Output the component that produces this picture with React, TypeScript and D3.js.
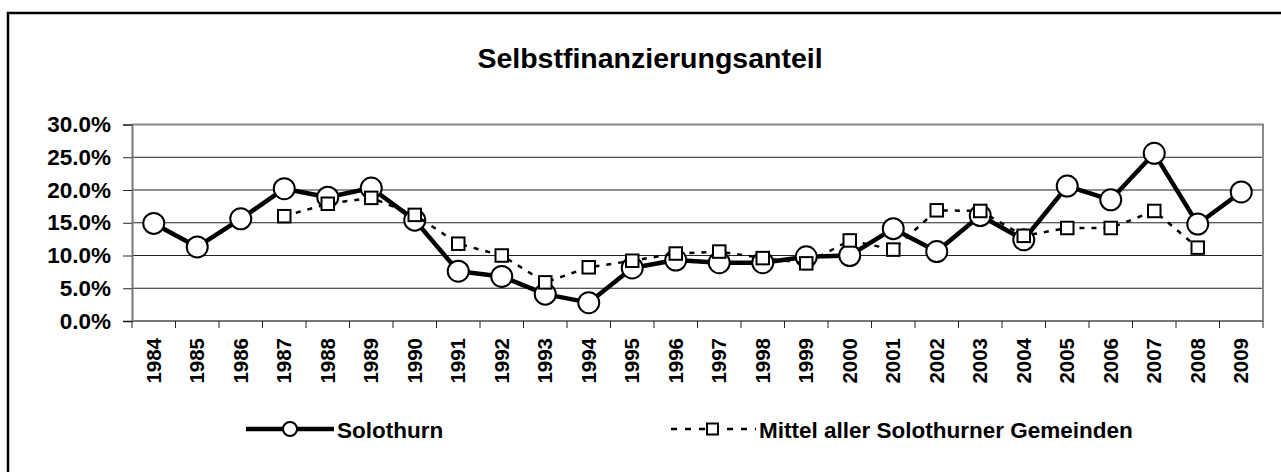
import { useRef, useEffect } from 'react';
import * as d3 from 'd3';

const W = 1281;
const H = 472;

const YEARS = [
  '1984', '1985', '1986', '1987', '1988', '1989', '1990', '1991', '1992',
  '1993', '1994', '1995', '1996', '1997', '1998', '1999', '2000', '2001',
  '2002', '2003', '2004', '2005', '2006', '2007', '2008', '2009',
];

// Selbstfinanzierungsanteil, in percent
const SOLOTHURN = [
  14.9, 11.3, 15.6, 20.2, 18.9, 20.3, 15.4, 7.6, 6.8, 4.1, 2.8, 8.1, 9.3,
  8.9, 8.9, 9.8, 10.0, 14.1, 10.6, 16.1, 12.4, 20.6, 18.5, 25.6, 14.8, 19.7,
];
const MITTEL: (number | null)[] = [
  null, null, null, 16.0, 17.9, 18.8, 16.2, 11.8, 10.0, 5.9, 8.2, 9.2, 10.3,
  10.6, 9.6, 8.8, 12.3, 10.9, 16.9, 16.8, 13.0, 14.2, 14.2, 16.8, 11.2, null,
];

const Y_TICKS = [0, 5, 10, 15, 20, 25, 30];

const TITLE = 'Selbstfinanzierungsanteil';
const LABEL_A = 'Solothurn';
const LABEL_B = 'Mittel aller Solothurner Gemeinden';

const FONT = '"Liberation Sans", Arial, sans-serif';
const PLOT = { left: 132, right: 1263, top: 124.5, bottom: 321 };

export default function App() {
  const svgRef = useRef<SVGSVGElement>(null);

  useEffect(() => {
    if (!svgRef.current) return;
    const svg = d3.select(svgRef.current);
    svg.selectAll('*').remove();

    const x = d3.scaleBand<string>().domain(YEARS).range([PLOT.left, PLOT.right]);
    const y = d3.scaleLinear().domain([0, 30]).range([PLOT.bottom, PLOT.top]);
    const cx = (i: number) => x(YEARS[i])! + x.bandwidth() / 2;

    // ── Outer frame (runs past the right and bottom edge) ───────────────
    svg.append('rect')
      .attr('x', 8).attr('y', 13)
      .attr('width', W + 20).attr('height', H + 20)
      .attr('fill', '#fff')
      .attr('stroke', '#000')
      .attr('stroke-width', 2.5);

    // ── Title ───────────────────────────────────────────────────────────
    svg.append('text')
      .attr('x', 650).attr('y', 68)
      .attr('text-anchor', 'middle')
      .attr('font-family', FONT)
      .attr('font-weight', 'bold')
      .attr('font-size', '28.5px')
      .text(TITLE);

    // ── Grid lines ──────────────────────────────────────────────────────
    svg.append('g')
      .selectAll('line')
      .data(Y_TICKS.filter((t) => t > 0 && t < 30))
      .join('line')
      .attr('x1', PLOT.left).attr('x2', PLOT.right)
      .attr('y1', (d) => y(d)).attr('y2', (d) => y(d))
      .attr('stroke', '#222')
      .attr('stroke-width', 1);

    // plot area border (top / right)
    svg.append('path')
      .attr('d', `M${PLOT.left},${PLOT.top}H${PLOT.right}V${PLOT.bottom}`)
      .attr('fill', 'none')
      .attr('stroke', '#888')
      .attr('stroke-width', 2);

    // ── Y axis ──────────────────────────────────────────────────────────
    svg.append('g')
      .attr('transform', `translate(${PLOT.left},0)`)
      .call(
        d3.axisLeft(y)
          .tickValues(Y_TICKS)
          .tickSize(9)
          .tickPadding(12)
          .tickFormat((d) => `${(+d).toFixed(1)}%`),
      )
      .call((sel) => {
        sel.select('.domain').attr('stroke', '#777').attr('stroke-width', 2);
        sel.selectAll('.tick line').attr('stroke', '#222');
        sel.selectAll('.tick text')
          .attr('fill', '#000')
          .attr('font-size', '22.5px')
          .attr('font-weight', 'bold')
          .attr('font-family', FONT);
      });

    // ── X axis ──────────────────────────────────────────────────────────
    const gx = svg.append('g');
    gx.append('line')
      .attr('x1', PLOT.left).attr('x2', PLOT.right)
      .attr('y1', PLOT.bottom).attr('y2', PLOT.bottom)
      .attr('stroke', '#777').attr('stroke-width', 2);
    const bounds = [...YEARS.map((d) => x(d)!), PLOT.right];
    gx.selectAll('line.tk')
      .data(bounds)
      .join('line')
      .attr('class', 'tk')
      .attr('x1', (d) => d).attr('x2', (d) => d)
      .attr('y1', PLOT.bottom).attr('y2', PLOT.bottom + 7)
      .attr('stroke', '#222');
    gx.selectAll('text')
      .data(YEARS)
      .join('text')
      .attr('transform', (d) =>
        `translate(${x(d)! + x.bandwidth() / 2 + 7},${PLOT.bottom + 17}) rotate(-90)`)
      .attr('text-anchor', 'end')
      .attr('font-family', FONT)
      .attr('font-weight', 'bold')
      .attr('font-size', '20.5px')
      .text((d) => d);

    // ── Solothurn ───────────────────────────────────────────────────────
    const lineA = d3.line<number>()
      .x((_, i) => cx(i))
      .y((d) => y(d));
    svg.append('path')
      .datum(SOLOTHURN)
      .attr('fill', 'none')
      .attr('stroke', '#000')
      .attr('stroke-width', 4.5)
      .attr('stroke-linejoin', 'round')
      .attr('d', lineA);
    svg.append('g')
      .selectAll('circle')
      .data(SOLOTHURN)
      .join('circle')
      .attr('cx', (_, i) => cx(i))
      .attr('cy', (d) => y(d))
      .attr('r', 10.5)
      .attr('fill', '#fff')
      .attr('stroke', '#000')
      .attr('stroke-width', 2);

    // ── Mittel aller Gemeinden ──────────────────────────────────────────
    const lineB = d3.line<number | null>()
      .defined((d) => d != null)
      .x((_, i) => cx(i))
      .y((d) => y(d!));
    svg.append('path')
      .datum(MITTEL)
      .attr('fill', 'none')
      .attr('stroke', '#000')
      .attr('stroke-width', 2.5)
      .attr('stroke-dasharray', '5,7')
      .attr('d', lineB);
    const sq = 12.5;
    svg.append('g')
      .selectAll('rect')
      .data(MITTEL.map((v, i) => ({ v, i })).filter((d) => d.v != null))
      .join('rect')
      .attr('x', (d) => cx(d.i) - sq / 2)
      .attr('y', (d) => y(d.v!) - sq / 2)
      .attr('width', sq).attr('height', sq)
      .attr('fill', '#fff')
      .attr('stroke', '#000')
      .attr('stroke-width', 2);

    // ── Legend ──────────────────────────────────────────────────────────
    const ly = 429;
    const legA = svg.append('g');
    legA.append('line')
      .attr('x1', 246).attr('x2', 334).attr('y1', ly).attr('y2', ly)
      .attr('stroke', '#000').attr('stroke-width', 4.5);
    legA.append('circle')
      .attr('cx', 290).attr('cy', ly).attr('r', 7)
      .attr('fill', '#fff').attr('stroke', '#000').attr('stroke-width', 2);
    legA.append('text')
      .attr('x', 337).attr('y', 437.5)
      .attr('font-family', FONT).attr('font-weight', 'bold').attr('font-size', '22.5px')
      .text(LABEL_A);

    const legB = svg.append('g');
    legB.append('line')
      .attr('x1', 671).attr('x2', 756).attr('y1', ly).attr('y2', ly)
      .attr('stroke', '#000').attr('stroke-width', 2.5)
      .attr('stroke-dasharray', '6,8');
    legB.append('rect')
      .attr('x', 707).attr('y', ly - 5.5).attr('width', 11).attr('height', 11)
      .attr('fill', '#fff').attr('stroke', '#000').attr('stroke-width', 2);
    legB.append('text')
      .attr('x', 759).attr('y', 437.5)
      .attr('font-family', FONT).attr('font-weight', 'bold').attr('font-size', '22.5px')
      .text(LABEL_B);
  }, []);

  return (
    <svg
      ref={svgRef}
      width={W}
      height={H}
      style={{ position: 'absolute', left: 0, top: 0, display: 'block' }}
    />
  );
}
